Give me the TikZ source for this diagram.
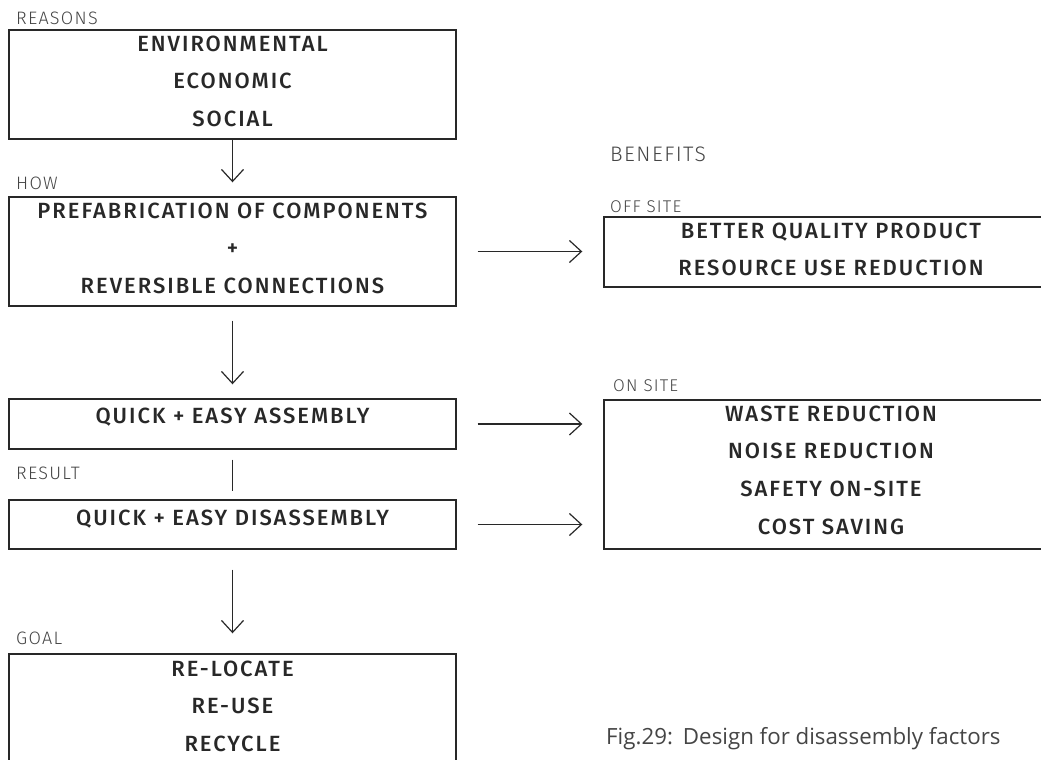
\documentclass[tikz,border=0pt]{standalone}
\usepackage{fontspec}
\usepackage{tikz}
\usetikzlibrary{positioning}
\usetikzlibrary{calc}
\usetikzlibrary{arrows.meta}
\newfontfamily\boxfont{Fira Sans Medium}[LetterSpace=9]
\newfontfamily\lblfont{Fira Sans Light}[LetterSpace=7]
\newfontfamily\capfont{Open Sans}
\definecolor{ink}{HTML}{282828}
\definecolor{lblgray}{HTML}{454545}
\tikzset{
frame/.style={draw=ink,line width=1.4pt,inner sep=0pt},
boxtext/.style={font=\boxfont\fontsize{22}{37.7}\selectfont,text=ink,align=center,inner sep=0pt,anchor=north},
tag/.style={font=\lblfont\fontsize{18}{20}\selectfont,text=lblgray,inner sep=0pt,anchor=west},
flow/.style={draw=ink,line width=1.2pt,-{Straight Barb[length=12pt,width=22pt,line width=1.2pt]}},
link/.style={draw=ink,line width=1.2pt}
}

\begin{document}
\begin{tikzpicture}[x=1pt,y=-1pt]
\useasboundingbox (0,0) rectangle (1041,760);
\fill[white] (0,0) rectangle (1041,760);
\clip (0,0) rectangle (1041,760);
% left column
\node[frame,minimum width=447pt,minimum height=109pt] (reasons) at (232.5,84.5) {};
\node[frame,minimum width=447pt,minimum height=109pt] (how) at (232.5,251.5) {};
\node[frame,minimum width=447pt,minimum height=50pt] (assembly) at (232.5,424) {};
\node[frame,minimum width=447pt,minimum height=49pt] (disassembly) at (232.5,524.5) {};
\node[frame,minimum width=447pt,minimum height=120pt] (goal) at (232.5,714) {};
% right column
\node[frame,minimum width=454pt,minimum height=70pt] (offsite) at (831,252) {};
\node[frame,minimum width=454pt,minimum height=149pt] (onsite) at (831,474.5) {};
% box texts
\node[boxtext] (reasonstext) at ([yshift=-6pt]reasons.north) {ENVIRONMENTAL\\ECONOMIC\\SOCIAL};
\node[boxtext] (howtext) at ([yshift=-6pt]how.north) {PREFABRICATION OF COMPONENTS\\+\\REVERSIBLE CONNECTIONS};
\node[boxtext] (assemblytext) at ([yshift=-9pt]assembly.north) {QUICK + EASY ASSEMBLY};
\node[boxtext] (disassemblytext) at ([yshift=-10pt]disassembly.north) {QUICK + EASY DISASSEMBLY};
\node[boxtext] (goaltext) at ([yshift=-7pt]goal.north) {RE-LOCATE\\RE-USE\\RECYCLE};
\node[boxtext] (offsitetext) at ([yshift=-6pt]offsite.north) {BETTER QUALITY PRODUCT\\RESOURCE USE REDUCTION};
\node[boxtext] (onsitetext) at ([yshift=-6pt]onsite.north) {WASTE REDUCTION\\NOISE REDUCTION\\SAFETY ON-SITE\\COST SAVING};
% labels
\node[tag] (reasonslbl) at (16,18) {REASONS};
\node[tag] (howlbl) at (16,183) {HOW};
\node[tag] (resultlbl) at (16,473) {RESULT};
\node[tag] (goallbl) at (16,638) {GOAL};
\node[tag,font=\lblfont\fontsize{21}{23}\selectfont] (benefitslbl) at (610,154) {BENEFITS};
\node[tag,font=\lblfont\fontsize{17}{19}\selectfont] (offsitelbl) at (610,207) {OFF SITE};
\node[tag,font=\lblfont\fontsize{17}{19}\selectfont] (onsitelbl) at (613,386) {ON SITE};
% connectors
\draw[flow,shorten >=14pt] (reasons) -- (how);
\draw[flow,shorten <=14pt,shorten >=14pt] (how) -- (assembly);
\draw[link,shorten <=10pt,shorten >=8pt] (assembly) -- (disassembly);
\draw[flow,shorten <=20pt,shorten >=20pt] (disassembly) -- (goal);
\draw[flow,shorten <=21pt,shorten >=21pt] (how.east) -- (how.east -| offsite.west);
\draw[flow,shorten <=21pt,shorten >=21pt] (assembly.east) -- (assembly.east -| onsite.west);
\draw[flow,shorten <=21pt,shorten >=21pt] (disassembly.east) -- (disassembly.east -| onsite.west);
% caption
\node[font=\capfont\fontsize{22.3}{25}\selectfont,text=lblgray,anchor=base west,inner sep=0pt] (caption) at (606,744) {Fig.29:\hspace{0.45em}Design for disassembly factors};
\end{tikzpicture}
\end{document}
